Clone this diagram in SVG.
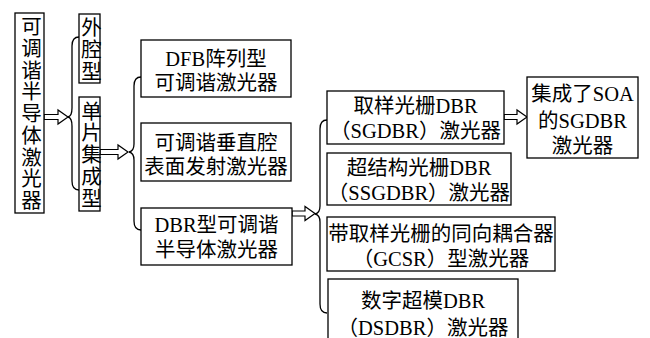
<svg xmlns="http://www.w3.org/2000/svg" width="650" height="338" viewBox="0 0 650 338">
<style>
.box{fill:#fff;stroke:#000;stroke-width:1.3}
.t{font-family:"Liberation Serif","Noto Sans CJK SC",serif;font-size:20.5px;fill:#000;text-anchor:middle}
.v{font-size:20.5px;writing-mode:vertical-rl;letter-spacing:1.2px}
.br{fill:none;stroke:#000;stroke-width:1.3}
.ar{fill:#fff;stroke:#000;stroke-width:1.2;stroke-linejoin:miter}
</style>
<rect width="650" height="338" fill="#fff"/>
<g id="connectors">
<path class="ar" d="M44,114.5 H58 V110 L68,117 L58,124 V119.5 H44 Z"/>
<path class="br" d="M79,37 Q72,37 72,46 V108 Q72,116 68,117 Q72,118 72,126 V181 Q72,190 79,190"/>
<path class="ar" d="M100,149.5 H118 V145 L128,152 L118,159 V154.5 H100 Z"/>
<path class="br" d="M141,77 Q134,77 134,86 V144 Q134,151 129,152 Q134,153 134,160 V221 Q134,230 141,230"/>
<path class="ar" d="M292,211 H305 V206.5 L315,213.5 L305,220.5 V216 H292 Z"/>
<path class="br" d="M327,120 Q320,120 320,129 V206 Q320,213 315,214 Q320,215 320,222 V304 Q320,313 327,313"/>
<path class="ar" d="M504,114.5 H517 V110 L527,117 L517,124 V119.5 H504 Z"/>
</g>
<g id="n1">
<rect class="box" x="15" y="13" width="29" height="200"/>
<text class="t v" x="29.5" y="114">可调谐半导体激光器</text>
</g>
<g id="n2">
<rect class="box" x="79" y="14" width="21" height="69"/>
<text class="t v" x="89.5" y="50">外腔型</text>
</g>
<g id="n3">
<rect class="box" x="79" y="97" width="21" height="114"/>
<text class="t v" x="89.5" y="155">单片集成型</text>
</g>
<g id="n4">
<rect class="box" x="141" y="40" width="150" height="57"/>
<text class="t" x="216" y="66">DFB阵列型</text>
<text class="t" x="216" y="90">可调谐激光器</text>
</g>
<g id="n5">
<rect class="box" x="141" y="123" width="150" height="58"/>
<text class="t" x="216" y="150">可调谐垂直腔</text>
<text class="t" x="216" y="174">表面发射激光器</text>
</g>
<g id="n6">
<rect class="box" x="141" y="208" width="151" height="57"/>
<text class="t" x="216.5" y="232">DBR型可调谐</text>
<text class="t" x="216.5" y="257">半导体激光器</text>
</g>
<g id="n7">
<rect class="box" x="327" y="91" width="177" height="53"/>
<text class="t" x="415.5" y="113">取样光栅DBR</text>
<text class="t" x="415.5" y="138">（SGDBR）激光器</text>
</g>
<g id="n8">
<rect class="box" x="327" y="153" width="184" height="52"/>
<text class="t" x="419" y="175">超结构光栅DBR</text>
<text class="t" x="419" y="200">（SSGDBR）激光器</text>
</g>
<g id="n9">
<rect class="box" x="327" y="217" width="228" height="54"/>
<text class="t" x="441" y="241">带取样光栅的同向耦合器</text>
<text class="t" x="441" y="266">（GCSR）型激光器</text>
</g>
<g id="n10">
<rect class="box" x="328" y="279" width="190" height="64"/>
<text class="t" x="423" y="308">数字超模DBR</text>
<text class="t" x="423" y="335">（DSDBR）激光器</text>
</g>
<g id="n11">
<rect class="box" x="527" y="77" width="111" height="81"/>
<text class="t" x="582.5" y="101">集成了SOA</text>
<text class="t" x="582.5" y="128">的SGDBR</text>
<text class="t" x="582.5" y="153">激光器</text>
</g>
</svg>
